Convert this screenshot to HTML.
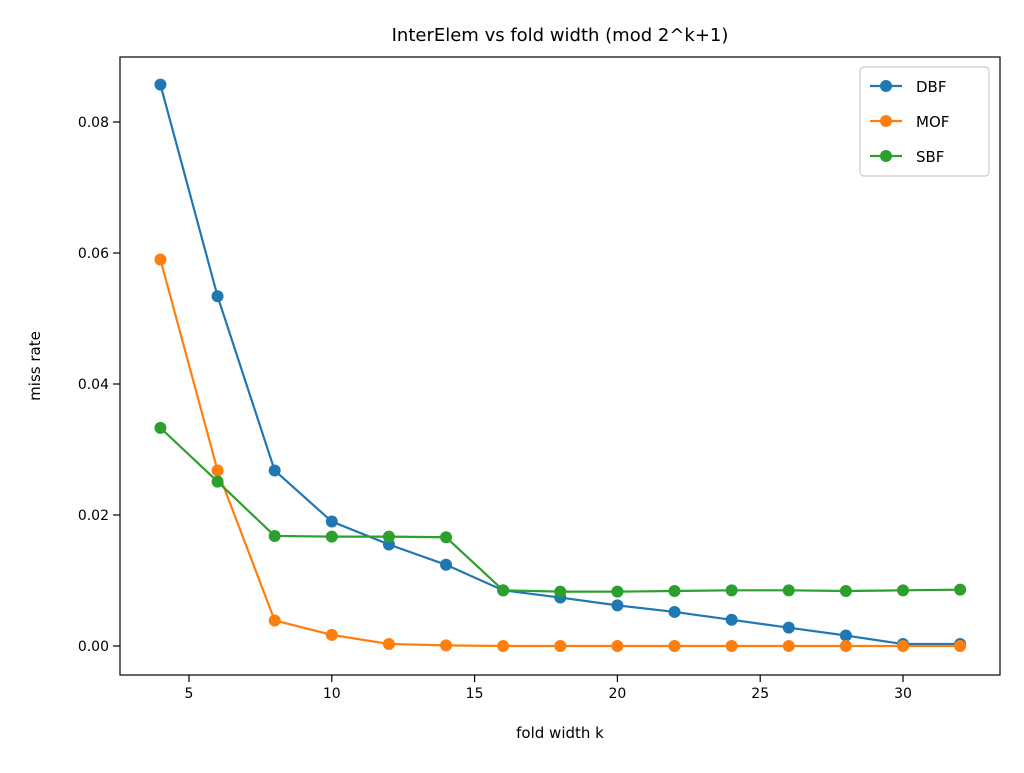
<!DOCTYPE html>
<html><head><meta charset="utf-8"><style>
body{margin:0;background:#fff;font-family:"Liberation Sans","DejaVu Sans",sans-serif;}
svg text{font-family:"DejaVu Sans","Liberation Sans",sans-serif;}
</style></head><body>
<svg id="chart" width="1024" height="768" xmlns="http://www.w3.org/2000/svg">
<rect width="1024" height="768" fill="#fff"/>
<text x="560" y="41" font-size="18" text-anchor="middle">InterElem vs fold width (mod 2^k+1)</text>
<text x="560" y="738" font-size="15" text-anchor="middle">fold width k</text>
<text x="40" y="366" font-size="15" text-anchor="middle" transform="rotate(-90 40 366)">miss rate</text>
<g id="ticks"></g>
<g id="series"></g>
<rect x="120" y="57" width="880" height="618" fill="none" stroke="#000" stroke-width="1.2"/>
<g id="legend"></g>
</svg>
<script>
const ks = [4,6,8,10,12,14,16,18,20,22,24,26,28,30,32];
const dbf = [0.0857,0.0534,0.0268,0.0190,0.0155,0.0124,0.0085,0.0074,0.0062,0.0052,0.0040,0.0028,0.0016,0.0003,0.0003];
const mof = [0.0590,0.0268,0.0039,0.0017,0.0003,0.0001,0.0000,0.0000,0.0000,0.0000,0.0000,0.0000,0.0000,0.0000,0.0000];
const sbf = [0.0333,0.0251,0.0168,0.0167,0.0167,0.0166,0.0085,0.0083,0.0083,0.0084,0.0085,0.0085,0.0084,0.0085,0.0086];
const xTicks = [5,10,15,20,25,30];
const yTicks = [0,0.02,0.04,0.06,0.08];
const yLabels = ["0.00","0.02","0.04","0.06","0.08"];
const seriesNames = ["DBF","MOF","SBF"];
const NS="http://www.w3.org/2000/svg";
function X(v){return 189+(v-5)*(903-189)/25;}
function Y(v){return 646-v*(646-122)/0.08;}
function el(t,a,p){const e=document.createElementNS(NS,t);for(const k in a)e.setAttribute(k,a[k]);p.appendChild(e);return e;}
const tg=document.getElementById('ticks');
xTicks.forEach(t=>{
 const l=el('line',{x1:X(t),x2:X(t),y1:675,y2:682,stroke:'#000','stroke-width':1.2},tg);
 
 
 const tx=el('text',{x:X(t),y:698,'font-size':14,'text-anchor':'middle'},tg);tx.textContent=t;
 
 
});
yTicks.forEach((t,i)=>{
 const l=el('line',{x1:113,x2:120,y1:Y(t),y2:Y(t),stroke:'#000','stroke-width':1.2},tg);
 
 
 const tx=el('text',{x:109,y:Y(t)+5,'font-size':14,'text-anchor':'end'},tg);tx.textContent=yLabels[i];
 
 
});
const colors=['#1f77b4','#ff7f0e','#2ca02c'];
const sg=document.getElementById('series');
[dbf,mof,sbf].forEach((d,si)=>{
 const g=el('g',{},sg);
 
 
 const pl=el('polyline',{points:d.map((v,i)=>X(ks[i])+','+Y(v)).join(' '),fill:'none',stroke:colors[si],'stroke-width':2.2},g);
 
 
 d.forEach((v,i)=>{
  const c=el('circle',{cx:X(ks[i]),cy:Y(v),r:6,fill:colors[si]},g);
  
  
 });
});
const lg=document.getElementById('legend');


el('rect',{x:860,y:67,width:129,height:109,rx:4,fill:'#fff',stroke:'#ccc','stroke-width':1.2},lg);
seriesNames.forEach((n,i)=>{
 const y=86+i*35;
 const g=el('g',{},lg);
 
 
 el('line',{x1:870,x2:902,y1:y,y2:y,stroke:colors[i],'stroke-width':2.2},g);
 el('circle',{cx:886,cy:y,r:6,fill:colors[i]},g);
 const t=el('text',{x:916,y:y+6,'font-size':15},g);t.textContent=n;
});
</script>
</body></html>
